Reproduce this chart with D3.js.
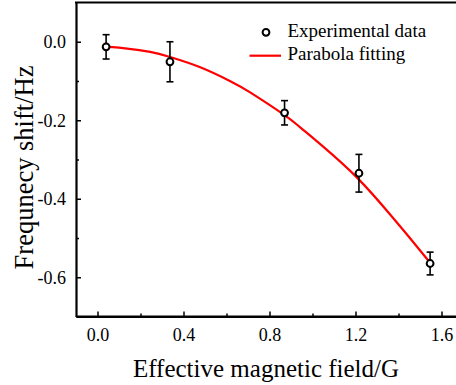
<!DOCTYPE html>
<html>
<head>
<meta charset="utf-8">
<script src="https://cdn.jsdelivr.net/npm/d3@7"></script>
<style>
    body { margin: 0; background: #fff; }
    svg { display: block; font-family: "Liberation Serif", "Times New Roman", serif; }
</style>
</head>
<body>
<div id="container"></div>
<script>

// measured points
var fieldG = [0.04, 0.337, 0.87, 1.216, 1.547];
var shiftHz = [-0.013, -0.051, -0.181, -0.335, -0.565];
var errHz = [0.031, 0.051, 0.031, 0.048, 0.029];

// parabola fit
var fitX = [0.04, 0.1, 0.245, 0.339, 0.478, 0.62, 0.71, 0.865, 0.943, 1.051, 1.214, 1.361, 1.45, 1.547];
var fitY = [-0.013, -0.015, -0.026, -0.039, -0.065, -0.101, -0.129, -0.185, -0.218, -0.268, -0.35, -0.44, -0.498, -0.563];

var xTicks = [0.0, 0.4, 0.8, 1.2, 1.6];
var xTickLabels = ["0.0", "0.4", "0.8", "1.2", "1.6"];
var xMinor = [0.2, 0.6, 1.0, 1.4];
var yTicks = [0.0, -0.2, -0.4, -0.6];
var yTickLabels = ["0.0", "-0.2", "-0.4", "-0.6"];
var yMinor = [-0.1, -0.3, -0.5];

var legendLabels = ["Experimental data", "Parabola fitting"];

var width = 456;
var height = 385;
// note: "top" is taken by window.top
var plotLeft = 76, plotTop = 2.5, plotBottom = 316.5;

var x = d3.scaleLinear().domain([-0.1, 1.7]).range([plotLeft, plotLeft + 1.8 * 215]);
var y = d3.scaleLinear().domain([-0.7, 0.1]).range([plotBottom, plotTop]);

var svg = d3.select("#container").append("svg")
    .attr("width", width)
    .attr("height", height);

// fit curve
var pts = fitX.map(function (d, i) { return [d, fitY[i]]; });
var line = d3.line()
    .x(function (d) { return x(d[0]); })
    .y(function (d) { return y(d[1]); })
    .curve(d3.curveNatural);

svg.append("path")
    .attr("d", line(pts))
    .style("fill", "none")
    .style("stroke", "#ff0000")
    .style("stroke-width", 2.2);

// error bars
var pg = svg.append("g")
    .style("stroke", "#000")
    .style("stroke-width", 1.6);

fieldG.forEach(function (d, i) {
    var cx = x(d);
    var y1 = y(shiftHz[i] + errHz[i]);
    var y2 = y(shiftHz[i] - errHz[i]);
    pg.append("line").attr("x1", cx).attr("x2", cx).attr("y1", y1).attr("y2", y2);
    pg.append("line").attr("x1", cx - 3.5).attr("x2", cx + 3.5).attr("y1", y1).attr("y2", y1);
    pg.append("line").attr("x1", cx - 3.5).attr("x2", cx + 3.5).attr("y1", y2).attr("y2", y2);
});

svg.append("g").selectAll("circle")
    .data(fieldG)
    .enter().append("circle")
    .attr("cx", function (d) { return x(d); })
    .attr("cy", function (d, i) { return y(shiftHz[i]); })
    .attr("r", 3.4)
    .style("fill", "#fff")
    .style("stroke", "#000")
    .style("stroke-width", 2);

// axes (ticks point inward)
var xAxis = d3.axisBottom(x)
    .tickValues(xTicks)
    .tickSizeInner(-5)
    .tickSizeOuter(0)
    .tickPadding(12)
    .tickFormat(function (d, i) { return xTickLabels[i]; });

svg.append("g")
    .attr("transform", "translate(0," + plotBottom + ")")
    .call(xAxis);

svg.append("g")
    .attr("transform", "translate(0," + plotBottom + ")")
    .call(d3.axisBottom(x).tickValues(xMinor).tickSizeInner(-3).tickSizeOuter(0).tickFormat(""))
    .select(".domain").remove();

var yAxis = d3.axisLeft(y)
    .tickValues(yTicks)
    .tickSizeInner(-5)
    .tickSizeOuter(0)
    .tickPadding(10)
    .tickFormat(function (d, i) { return yTickLabels[i]; });

svg.append("g")
    .attr("transform", "translate(" + plotLeft + ",0)")
    .call(yAxis);

svg.append("g")
    .attr("transform", "translate(" + plotLeft + ",0)")
    .call(d3.axisLeft(y).tickValues(yMinor).tickSizeInner(-3).tickSizeOuter(0).tickFormat(""))
    .select(".domain").remove();

svg.selectAll(".domain").style("stroke-width", 2.2);
svg.selectAll(".tick line").style("stroke-width", 1.5);
svg.selectAll(".tick text")
    .style("font-family", "Liberation Serif")
    .style("font-size", "18px")
    .style("fill", "#000");

// bottom axis line runs off the right edge, top frame too
svg.append("line")
    .attr("x1", plotLeft).attr("x2", width)
    .attr("y1", plotBottom).attr("y2", plotBottom)
    .style("stroke", "#000").style("stroke-width", 2.2);
svg.append("line")
    .attr("x1", plotLeft - 1).attr("x2", width)
    .attr("y1", plotTop).attr("y2", plotTop)
    .style("stroke", "#000").style("stroke-width", 2.2);

// axis titles
svg.append("text")
    .attr("x", 266)
    .attr("y", 376.5)
    .attr("text-anchor", "middle")
    .style("font-size", "25px")
    .text("Effective magnetic field/G");

svg.append("text")
    .attr("transform", "translate(33,167.5) rotate(-90)")
    .attr("text-anchor", "middle")
    .style("font-size", "26.5px")
    .text("Frequnecy shift/Hz");

// legend
var lg = svg.append("g");
lg.append("circle")
    .attr("cx", 266).attr("cy", 32.3).attr("r", 3.4)
    .style("fill", "#fff").style("stroke", "#000").style("stroke-width", 2);
lg.append("line")
    .attr("x1", 249.5).attr("x2", 281)
    .attr("y1", 55.7).attr("y2", 55.7)
    .style("stroke", "#ff0000").style("stroke-width", 2.2);
lg.selectAll("text")
    .data(legendLabels)
    .enter().append("text")
    .attr("x", 287.5)
    .attr("y", function (d, i) { return 36.8 + i * 23.3; })
    .style("font-size", "19px")
    .text(function (d) { return d; });

</script>
</body>
</html>
